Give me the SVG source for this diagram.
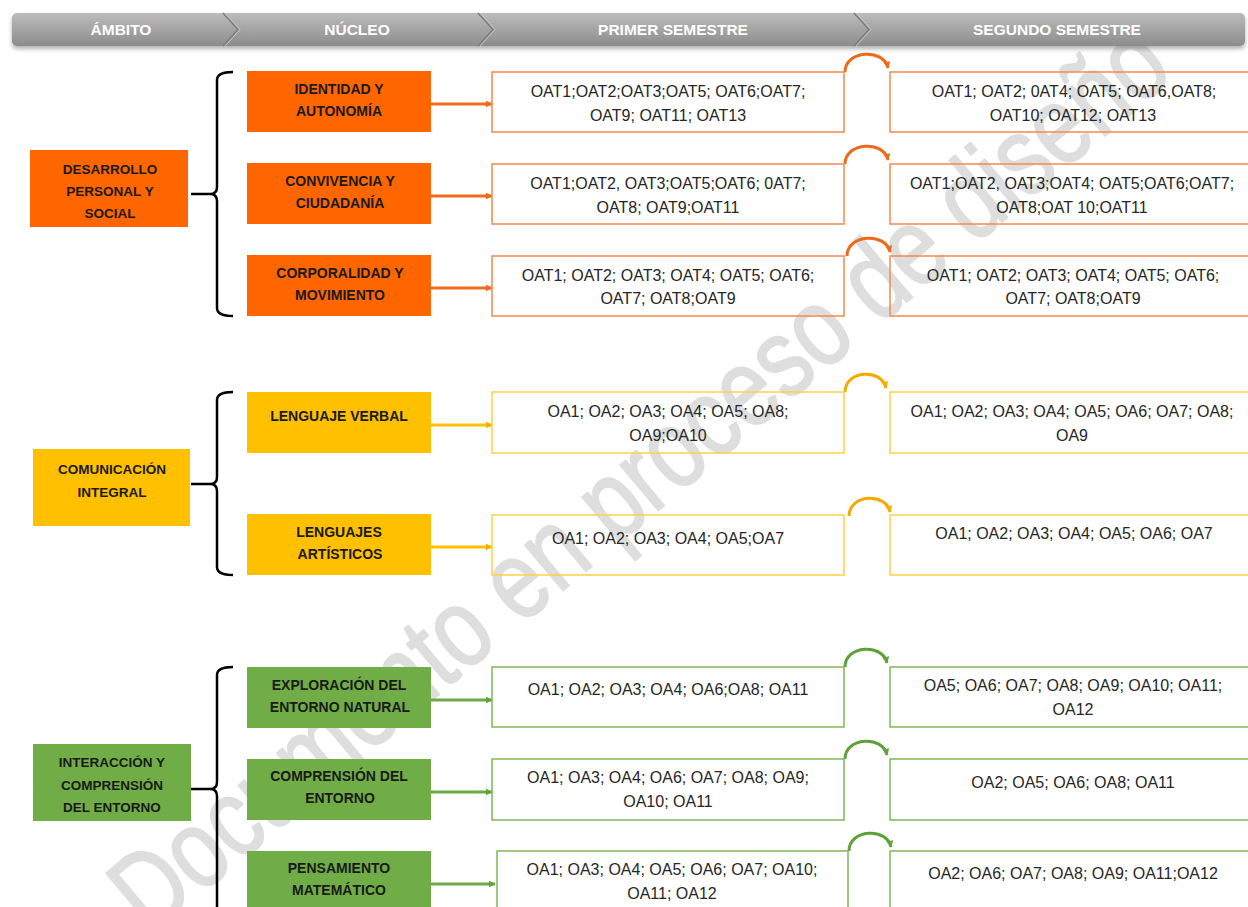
<svg xmlns="http://www.w3.org/2000/svg" width="1248" height="907" viewBox="0 0 1248 907">
<defs>
<linearGradient id="hdr" x1="0" y1="0" x2="0" y2="1">
<stop offset="0" stop-color="#bcbcbc"/>
<stop offset="1" stop-color="#8c8c8c"/>
</linearGradient>
<filter id="sh" x="-5%" y="-40%" width="110%" height="200%">
<feDropShadow dx="0" dy="3" stdDeviation="2" flood-color="#000" flood-opacity="0.3"/>
</filter>
<marker id="aO" viewBox="0 0 10 10" refX="9" refY="5" markerWidth="7" markerHeight="7" markerUnits="userSpaceOnUse" orient="auto"><path d="M0,0 L10,5 L0,10 z" fill="#F26A1B"/></marker>
<marker id="aY" viewBox="0 0 10 10" refX="9" refY="5" markerWidth="7" markerHeight="7" markerUnits="userSpaceOnUse" orient="auto"><path d="M0,0 L10,5 L0,10 z" fill="#F5B000"/></marker>
<marker id="aG" viewBox="0 0 10 10" refX="9" refY="5" markerWidth="7" markerHeight="7" markerUnits="userSpaceOnUse" orient="auto"><path d="M0,0 L10,5 L0,10 z" fill="#62A33D"/></marker>
</defs>
<style>
.wm{font-family:"Liberation Sans",Arial,sans-serif;font-size:112px;fill:#dedede;stroke:#dedede;stroke-width:2;stroke-linejoin:round}
.hd{font-family:"Liberation Sans",Arial,sans-serif;font-size:15.5px;font-weight:bold;fill:#ffffff;text-anchor:middle}
.amb{font-family:"Liberation Sans",Arial,sans-serif;font-size:13.5px;font-weight:bold;fill:#1a1a1a;text-anchor:middle}
.nuc{font-family:"Liberation Sans",Arial,sans-serif;font-size:14px;font-weight:bold;fill:#1a1a1a;text-anchor:middle}
.oa{font-family:"Liberation Sans",Arial,sans-serif;font-size:16px;fill:#262626;text-anchor:middle}
.fO{fill:#FF6600}.fY{fill:#FFC000}.fG{fill:#70AD47}
.bO{fill:none;stroke:#F58A4B;stroke-width:1.5}
.bY{fill:none;stroke:#FFCF45;stroke-width:1.5}
.bG{fill:none;stroke:#7DB956;stroke-width:1.5}
.brace{fill:none;stroke:#000;stroke-width:2.5;stroke-linejoin:round}
.cO{fill:none;stroke:#F26A1B;stroke-width:3}
.cY{fill:none;stroke:#FFC000;stroke-width:3}
.cG{fill:none;stroke:#6BAA45;stroke-width:3}
.kO{fill:none;stroke:#EE6A1A;stroke-width:3}
.kY{fill:none;stroke:#F5A800;stroke-width:3}
.kG{fill:none;stroke:#5FA03B;stroke-width:3}
</style>

<!-- watermark -->
<text class="wm" transform="translate(150,937) rotate(-40) scale(0.8,1)">Documento en proceso de diseño</text>

<!-- header -->
<g id="header">
<rect x="12" y="13" width="1233" height="33" rx="5" fill="url(#hdr)" filter="url(#sh)"/>
<polyline points="223,13 238,29.5 223,46" fill="none" stroke="#7c7c7c" stroke-width="1.5"/>
<polyline points="225,13 240,29.5 225,46" fill="none" stroke="#c8c8c8" stroke-width="1"/>
<polyline points="478,13 493,29.5 478,46" fill="none" stroke="#7c7c7c" stroke-width="1.5"/>
<polyline points="480,13 495,29.5 480,46" fill="none" stroke="#c8c8c8" stroke-width="1"/>
<polyline points="854,13 869,29.5 854,46" fill="none" stroke="#7c7c7c" stroke-width="1.5"/>
<polyline points="856,13 871,29.5 856,46" fill="none" stroke="#c8c8c8" stroke-width="1"/>
<text class="hd" x="121" y="35">ÁMBITO</text>
<text class="hd" x="357" y="35">NÚCLEO</text>
<text class="hd" x="673" y="35">PRIMER SEMESTRE</text>
<text class="hd" x="1057" y="35">SEGUNDO SEMESTRE</text>
</g>

<!-- connectors -->
<g id="connectors">
<path class="brace" d="M233,72 Q217,72 217,80 V187 Q217,194 210,194 H191 M210,194 Q217,194 217,201 V308 Q217,316 233,316"/>
<path class="brace" d="M233,392 Q217,392 217,400 V477 Q217,484 210,484 H191 M210,484 Q217,484 217,491 V567 Q217,575 233,575"/>
<path class="brace" d="M233,667 Q217,667 217,675 V782 Q217,789 210,789 H191 M210,789 Q217,789 217,796 V915"/>

<line class="cO" x1="431" y1="104" x2="492" y2="104" marker-end="url(#aO)"/>
<line class="cO" x1="431" y1="196" x2="492" y2="196" marker-end="url(#aO)"/>
<line class="cO" x1="431" y1="288" x2="492" y2="288" marker-end="url(#aO)"/>
<line class="cY" x1="431" y1="425" x2="492" y2="425" marker-end="url(#aY)"/>
<line class="cY" x1="431" y1="547" x2="492" y2="547" marker-end="url(#aY)"/>
<line class="cG" x1="431" y1="700" x2="492" y2="700" marker-end="url(#aG)"/>
<line class="cG" x1="431" y1="792" x2="492" y2="792" marker-end="url(#aG)"/>
<line class="cG" x1="431" y1="884" x2="495" y2="884" marker-end="url(#aG)"/>

<path class="kO" d="M845,72 C845,50 884,48 888,68" marker-end="url(#aO)"/>
<path class="kO" d="M845,164 C845,142 884,140 888,160" marker-end="url(#aO)"/>
<path class="kO" d="M847,256 C847,234 886,232 890,252" marker-end="url(#aO)"/>
<path class="kY" d="M845,392 C845,370 882,368 886,388" marker-end="url(#aY)"/>
<path class="kY" d="M849,516 C849,494 886,492 890,512" marker-end="url(#aY)"/>
<path class="kG" d="M845,667 C845,645 883,643 887,663" marker-end="url(#aG)"/>
<path class="kG" d="M845,759 C845,737 883,735 887,755" marker-end="url(#aG)"/>
<path class="kG" d="M849,851 C849,829 887,827 891,847" marker-end="url(#aG)"/>
</g>

<!-- ambito nodes -->
<g id="amb-desarrollo">
<rect class="fO" x="30" y="150" width="158" height="77"/>
<text class="amb" x="110" y="174">DESARROLLO</text>
<text class="amb" x="110" y="196">PERSONAL Y</text>
<text class="amb" x="110" y="218">SOCIAL</text>
</g>
<g id="amb-comunicacion">
<rect class="fY" x="33" y="449" width="157" height="77"/>
<text class="amb" x="112" y="474">COMUNICACIÓN</text>
<text class="amb" x="112" y="497">INTEGRAL</text>
</g>
<g id="amb-interaccion">
<rect class="fG" x="33" y="744" width="158" height="77"/>
<text class="amb" x="112" y="767">INTERACCIÓN Y</text>
<text class="amb" x="112" y="790">COMPRENSIÓN</text>
<text class="amb" x="112" y="812">DEL ENTORNO</text>
</g>

<!-- nucleo nodes -->
<g id="nuc-identidad">
<rect class="fO" x="247" y="71" width="184" height="61"/>
<text class="nuc" x="339" y="94">IDENTIDAD Y</text>
<text class="nuc" x="339" y="116">AUTONOMÍA</text>
</g>
<g id="nuc-convivencia">
<rect class="fO" x="247" y="163" width="184" height="61"/>
<text class="nuc" x="340" y="186">CONVIVENCIA Y</text>
<text class="nuc" x="340" y="208">CIUDADANÍA</text>
</g>
<g id="nuc-corporalidad">
<rect class="fO" x="247" y="255" width="184" height="61"/>
<text class="nuc" x="340" y="278">CORPORALIDAD Y</text>
<text class="nuc" x="340" y="300">MOVIMIENTO</text>
</g>
<g id="nuc-verbal">
<rect class="fY" x="247" y="392" width="184" height="61"/>
<text class="nuc" x="339" y="421">LENGUAJE VERBAL</text>
</g>
<g id="nuc-artisticos">
<rect class="fY" x="247" y="514" width="184" height="61"/>
<text class="nuc" x="339" y="537">LENGUAJES</text>
<text class="nuc" x="340" y="559">ARTÍSTICOS</text>
</g>
<g id="nuc-exploracion">
<rect class="fG" x="247" y="667" width="184" height="61"/>
<text class="nuc" x="339" y="690">EXPLORACIÓN DEL</text>
<text class="nuc" x="340" y="712">ENTORNO NATURAL</text>
</g>
<g id="nuc-comprension">
<rect class="fG" x="247" y="759" width="184" height="61"/>
<text class="nuc" x="339" y="781">COMPRENSIÓN DEL</text>
<text class="nuc" x="340" y="803">ENTORNO</text>
</g>
<g id="nuc-pensamiento">
<rect class="fG" x="247" y="851" width="184" height="61"/>
<text class="nuc" x="339" y="873">PENSAMIENTO</text>
<text class="nuc" x="339" y="895">MATEMÁTICO</text>
</g>

<!-- primer semestre -->
<g id="p1-identidad">
<rect class="bO" x="492" y="72" width="352" height="60"/>
<text class="oa" x="668" y="97">OAT1;OAT2;OAT3;OAT5; OAT6;OAT7;</text>
<text class="oa" x="668" y="121">OAT9; OAT11; OAT13</text>
</g>
<g id="p1-convivencia">
<rect class="bO" x="492" y="164" width="352" height="60"/>
<text class="oa" x="668" y="189">OAT1;OAT2, OAT3;OAT5;OAT6; 0AT7;</text>
<text class="oa" x="668" y="213">OAT8; OAT9;OAT11</text>
</g>
<g id="p1-corporalidad">
<rect class="bO" x="492" y="256" width="352" height="60"/>
<text class="oa" x="668" y="281">OAT1; OAT2; OAT3; OAT4; OAT5; OAT6;</text>
<text class="oa" x="668" y="304">OAT7; OAT8;OAT9</text>
</g>
<g id="p1-verbal">
<rect class="bY" x="492" y="392" width="352" height="61"/>
<text class="oa" x="668" y="417">OA1; OA2; OA3; OA4; OA5; OA8;</text>
<text class="oa" x="668" y="441">OA9;OA10</text>
</g>
<g id="p1-artisticos">
<rect class="bY" x="492" y="515" width="352" height="60"/>
<text class="oa" x="668" y="544">OA1; OA2; OA3; OA4; OA5;OA7</text>
</g>
<g id="p1-exploracion">
<rect class="bG" x="492" y="667" width="352" height="60"/>
<text class="oa" x="668" y="695">OA1; OA2; OA3; OA4; OA6;OA8;  OA11</text>
</g>
<g id="p1-comprension">
<rect class="bG" x="492" y="759" width="352" height="61"/>
<text class="oa" x="668" y="783">OA1; OA3; OA4; OA6; OA7; OA8; OA9;</text>
<text class="oa" x="668" y="807">OA10; OA11</text>
</g>
<g id="p1-pensamiento">
<rect class="bG" x="497" y="851" width="351" height="70"/>
<text class="oa" x="672" y="875">OA1; OA3; OA4; OA5; OA6; OA7; OA10;</text>
<text class="oa" x="672" y="899">OA11; OA12</text>
</g>

<!-- segundo semestre -->
<g id="p2-identidad">
<rect class="bO" x="890" y="72" width="370" height="60"/>
<text class="oa" x="1074" y="97">OAT1; OAT2; 0AT4; OAT5; OAT6,OAT8;</text>
<text class="oa" x="1073" y="121">OAT10; OAT12; OAT13</text>
</g>
<g id="p2-convivencia">
<rect class="bO" x="890" y="164" width="370" height="60"/>
<text class="oa" x="1072" y="189">OAT1;OAT2, OAT3;OAT4; OAT5;OAT6;OAT7;</text>
<text class="oa" x="1072" y="213">OAT8;OAT 10;OAT11</text>
</g>
<g id="p2-corporalidad">
<rect class="bO" x="890" y="256" width="370" height="60"/>
<text class="oa" x="1073" y="281">OAT1; OAT2; OAT3; OAT4; OAT5; OAT6;</text>
<text class="oa" x="1073" y="304">OAT7; OAT8;OAT9</text>
</g>
<g id="p2-verbal">
<rect class="bY" x="890" y="392" width="370" height="61"/>
<text class="oa" x="1072" y="417">OA1; OA2; OA3; OA4; OA5; OA6; OA7; OA8;</text>
<text class="oa" x="1072" y="441">OA9</text>
</g>
<g id="p2-artisticos">
<rect class="bY" x="890" y="515" width="370" height="60"/>
<text class="oa" x="1074" y="539">OA1; OA2; OA3; OA4; OA5; OA6; OA7</text>
</g>
<g id="p2-exploracion">
<rect class="bG" x="890" y="667" width="370" height="60"/>
<text class="oa" x="1073" y="691">OA5; OA6; OA7; OA8; OA9; OA10; OA11;</text>
<text class="oa" x="1073" y="715">OA12</text>
</g>
<g id="p2-comprension">
<rect class="bG" x="890" y="759" width="370" height="61"/>
<text class="oa" x="1073" y="788">OA2; OA5; OA6; OA8; OA11</text>
</g>
<g id="p2-pensamiento">
<rect class="bG" x="890" y="851" width="370" height="70"/>
<text class="oa" x="1073" y="879">OA2; OA6; OA7; OA8; OA9; OA11;OA12</text>
</g>
</svg>
